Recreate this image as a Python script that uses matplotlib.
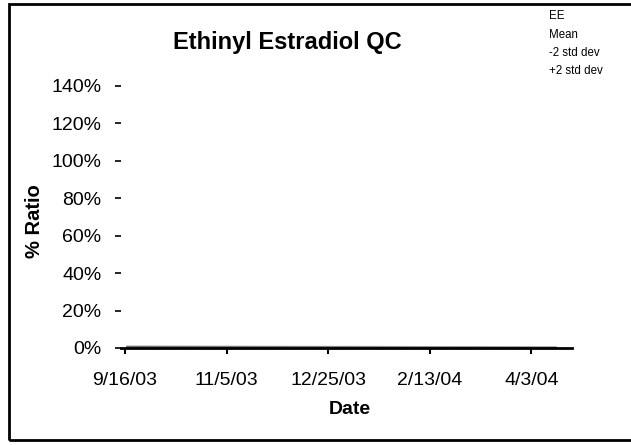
import datetime as dt
import matplotlib
matplotlib.use("Agg")
import matplotlib.pyplot as plt
from matplotlib.patches import Rectangle

plt.rcParams['font.family'] = ['Liberation Sans', 'DejaVu Sans']

# data (all series sit essentially on the zero line)
dates = [dt.date(2003, 9, 17), dt.date(2003, 11, 20), dt.date(2004, 1, 15),
         dt.date(2004, 3, 10), dt.date(2004, 4, 15)]
ee = [0.004, 0.003, 0.002, 0.001, 0.0]
mean = [0.006, 0.005, 0.004, 0.003, 0.002]
minus2 = [0.002, 0.002, 0.001, 0.001, 0.0]
plus2 = [0.008, 0.007, 0.006, 0.004, 0.003]

tick_dates = [dt.date(2003, 9, 16), dt.date(2003, 11, 5), dt.date(2003, 12, 25),
              dt.date(2004, 2, 13), dt.date(2004, 4, 3)]
tick_labels = ['9/16/03', '11/5/03', '12/25/03', '2/13/04', '4/3/04']
y_ticks = [0, 0.2, 0.4, 0.6, 0.8, 1.0, 1.2, 1.4]
y_labels = ['0%', '20%', '40%', '60%', '80%', '100%', '120%', '140%']

fig = plt.figure(figsize=(6.31, 4.45), dpi=100)
ax = fig.add_axes([121 / 631, 1 - 348 / 445, (572 - 121) / 631, (348 - 86) / 445])

ax.plot(dates, plus2, color='#bbbbbb', lw=1.5, label='+2 std dev')
ax.plot(dates, minus2, color='#bbbbbb', lw=1.5, label='-2 std dev')
ax.plot(dates, mean, color='#888888', lw=1.5, label='Mean')
ax.plot(dates, ee, color='#555555', lw=1.0, label='EE')

ax.set_xlim(dt.date(2003, 9, 14), dt.date(2004, 4, 23))
ax.set_ylim(0, 1.4)
ax.set_xticks(tick_dates)
ax.set_xticklabels(tick_labels, fontsize=14)
ax.set_yticks(y_ticks)
ax.set_yticklabels(y_labels, fontsize=14)

for s in ['top', 'right', 'left']:
    ax.spines[s].set_visible(False)
ax.spines['bottom'].set_linewidth(2)
ax.tick_params(axis='x', direction='out', length=4, width=1.5, pad=13)
ax.tick_params(axis='y', direction='out', length=4, width=1.2, pad=10)

handles, labels = ax.get_legend_handles_labels()
order = [3, 2, 1, 0]
leg = fig.legend([handles[i] for i in order], [labels[i] for i in order],
                 loc='upper left', bbox_to_anchor=(539 / 631, 1 - 0 / 445),
                 frameon=False, handlelength=0, handletextpad=0,
                 fontsize=8.3, labelspacing=0.55)
for h in leg.legend_handles:
    h.set_visible(False)

fig.text(287 / 631, 1 - 42 / 445, 'Ethinyl Estradiol QC', fontsize=17,
         fontweight='bold', ha='center', va='center')
fig.text(350 / 631, 1 - 410 / 445, 'Date', fontsize=14, fontweight='bold',
         ha='center', va='center')
fig.text(35 / 631, 1 - 221 / 445, '% Ratio', fontsize=14.5, fontweight='bold',
         ha='center', va='center', rotation=90)

fig.patches.append(Rectangle((8.5 / 631, 1 - 440 / 445), 1.0, (440 - 3.5) / 445,
                             transform=fig.transFigure, fill=False,
                             edgecolor='black', lw=2, clip_on=False))

fig.savefig('out.png', dpi=100)
